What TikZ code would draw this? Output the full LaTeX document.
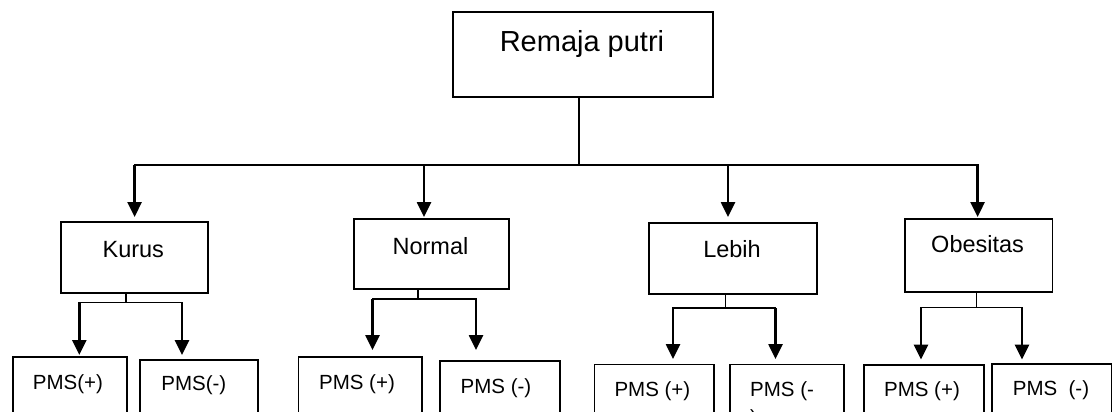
\documentclass[tikz,border=0pt]{standalone}
\usepackage{fontspec}
\setmainfont{Liberation Sans}
\usetikzlibrary{arrows.meta}
\tikzset{
  box/.style={draw, line width=1.9pt, rectangle, inner sep=0pt, anchor=north west},
  conn/.style={line width=1.9pt, line cap=rect},
  arr/.style={line width=2.6pt, -{Triangle[width=14pt,length=15pt]}},
  troot/.style={inner sep=0pt, anchor=base, font=\fontsize{29}{34}\selectfont},
  tmid/.style={inner sep=0pt, anchor=base, font=\fontsize{23.5}{28}\selectfont},
  tpms/.style={inner sep=0pt, anchor=base, font=\fontsize{20.5}{25}\selectfont},
}
\begin{document}
\begin{tikzpicture}[x=1pt,y=-1pt]
\useasboundingbox (0,0) rectangle (1112,412);
\clip (0,0) rectangle (1112,412);
% root
\node[box, minimum width=260pt, minimum height=85.7pt] (root) at (452,10.7) {};
\node[troot] (roott) at (582,51.8) {Remaja putri};
% level 2 boxes
\node[box, minimum width=147.4pt, minimum height=71pt] (kurus) at (59.6,221) {};
\node[tmid] (kurust) at (133.3,257) {Kurus};
\node[box, minimum width=155pt, minimum height=70pt] (normal) at (353,218) {};
\node[tmid] (normalt) at (430.5,254) {Normal};
\node[box, minimum width=168.3pt, minimum height=71pt] (lebih) at (647.7,222) {};
\node[tmid] (lebiht) at (732,257.7) {Lebih};
\node[box, minimum width=147.8pt, minimum height=73pt] (obes) at (903.7,217.6) {};
\node[tmid] (obest) at (977.6,252.8) {Obesitas};
% level 1 connectors
\coordinate (rb) at (578.7,164.6);
\coordinate (bK) at (134.6,164.6);
\coordinate (bN) at (424,164.6);
\coordinate (bL) at (728,164.6);
\coordinate (bO) at (977.6,164.6);
\coordinate (tK) at (134.6,217);
\coordinate (tN) at (424,217);
\coordinate (tL) at (728,217);
\coordinate (tO) at (977.6,217);
\draw[conn] (root.south -| rb) -- (rb);
\draw[conn] (bK) -- (bO);
\draw[arr] (bK) -- (tK);
\draw[arr] (bN) -- (tN);
\draw[arr] (bL) -- (tL);
\draw[arr] (bO) -- (tO);
% level 3 boxes
\node[box, minimum width=114pt, minimum height=90pt] (k1) at (12,355.7) {};
\node[tpms] (k1t) at (68,389) {PMS(+)};
\node[box, minimum width=118pt, minimum height=90pt] (k2) at (139,358.6) {};
\node[tpms] (k2t) at (193.8,390.7) {PMS(-)};
\node[box, minimum width=123.2pt, minimum height=90pt] (n1) at (297.5,355.7) {};
\node[tpms] (n1t) at (357,389) {PMS (+)};
\node[box, minimum width=120pt, minimum height=90pt] (n2) at (439,360) {};
\node[tpms] (n2t) at (496,393.6) {PMS (-)};
\node[box, minimum width=119.5pt, minimum height=90pt] (l1) at (593.5,363.5) {};
\node[tpms] (l1t) at (652.4,396) {PMS (+)};
\node[box, minimum width=113.7pt, minimum height=90pt] (l2) at (729,363.5) {};
\node[tpms, anchor=base west] (l2t) at (750,396) {PMS (-};
\node[tpms, anchor=base west] (l2u) at (750,424) {)};
\node[box, minimum width=120.2pt, minimum height=90pt] (o1) at (862.8,363.8) {};
\node[tpms] (o1t) at (922,396) {PMS (+)};
\node[box, minimum width=120pt, minimum height=90pt] (o2) at (991,362.7) {};
\node[tpms] (o2t) at (1051,395.5) {PMS~~(-)};
% level 2 connectors
\coordinate (kS) at (126,302.5);
\coordinate (kA) at (79.3,302.5);
\coordinate (kB) at (182,302.5);
\coordinate (kAt) at (79.3,355);
\coordinate (kBt) at (182,355);
\draw[conn] (kurus.south -| kS) -- (kS);
\draw[conn] (kA) -- (kB);
\draw[arr] (kA) -- (kAt);
\draw[arr] (kB) -- (kBt);
\coordinate (nS) at (418,299);
\coordinate (nA) at (372.5,299);
\coordinate (nB) at (476,299);
\coordinate (nAt) at (372.5,350);
\coordinate (nBt) at (476,350);
\draw[conn] (normal.south -| nS) -- (nS);
\draw[conn] (nA) -- (nB);
\draw[arr] (nA) -- (nAt);
\draw[arr] (nB) -- (nBt);
\coordinate (lS) at (725.5,308);
\coordinate (lA) at (673,308);
\coordinate (lB) at (775.5,308);
\coordinate (lAt) at (673,359);
\coordinate (lBt) at (775.5,359);
\draw[conn] (lebih.south -| lS) -- (lS);
\draw[conn] (lA) -- (lB);
\draw[arr] (lA) -- (lAt);
\draw[arr] (lB) -- (lBt);
\coordinate (oS) at (976.5,307.5);
\coordinate (oA) at (921,307.5);
\coordinate (oB) at (1022,307.5);
\coordinate (oAt) at (921,359.6);
\coordinate (oBt) at (1022,359.6);
\draw[conn] (obes.south -| oS) -- (oS);
\draw[conn] (oA) -- (oB);
\draw[arr] (oA) -- (oAt);
\draw[arr] (oB) -- (oBt);
\end{tikzpicture}
\end{document}
